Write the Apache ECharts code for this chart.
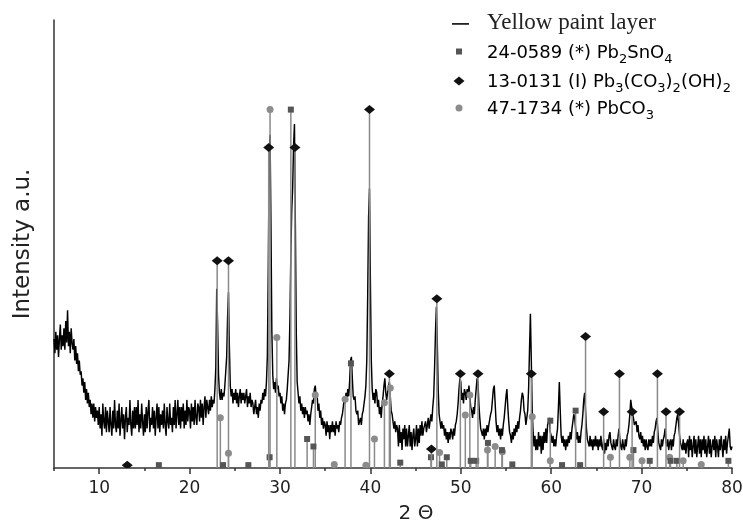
<!DOCTYPE html>
<html>
<head>
<meta charset="utf-8">
<script src="https://cdn.jsdelivr.net/npm/echarts@6/dist/echarts.min.js"></script>
<style>
  html, body { margin: 0; padding: 0; background: #fff; }
  #chart { width: 743px; height: 524px; }
</style>
</head>
<body>
<div id="chart"></div>
<script>
// XRD scan of the yellow paint layer: 5–80° 2θ, 0.1° step
const scanStart = 5;
const scanStep = 0.1;
const intensity = [
  36,32,38,33,37,31,36,40,33,37,
  34,39,33,41,35,44,34,38,32,39,
  35,33,36,30,34,29,32,27,30,26,
  27,23,25,21,24,19,22,18,21,17,
  19,15,18,14,18,13,17,14,16,12,
  17,11,15,9,18,13,11,17,10,16,
  13,10,17,12,9,16,11,19,12,10,
  16,11,18,9,13,17,11,15,8,14,
  17,10,14,12,19,12,9,16,11,17,
  11,17,12,19,10,15,11,18,13,9,
  15,10,17,11,16,19,10,14,12,17,
  11,16,9,14,18,11,17,10,15,12,
  16,11,18,12,9,17,13,11,18,12,
  14,10,17,12,19,11,15,19,12,17,
  11,17,13,18,11,16,12,19,13,17,
  16,11,18,13,17,12,19,14,12,18,
  17,13,19,14,18,12,17,20,14,19,
  17,15,19,16,20,17,19,18,22,28,
  50,40,26,21,19,22,19,21,20,23,
  27,31,42,49,34,23,20,22,18,21,
  19,22,18,21,17,20,22,18,21,19,
  21,18,20,22,17,20,18,21,17,19,
  18,15,17,19,15,17,14,18,16,19,
  18,21,19,22,20,24,31,55,85,93,
  68,38,26,22,24,21,25,22,23,20,
  21,18,20,16,18,15,18,19,22,26,
  30,42,60,72,78,90,96,68,38,24,
  21,18,20,16,18,15,17,14,17,15,
  16,13,15,12,15,17,19,18,22,23,
  20,21,16,18,14,16,12,14,11,13,
  12,9,13,10,12,8,12,10,13,10,
  12,9,13,11,12,10,13,12,14,15,
  17,19,18,21,19,22,20,24,30,31,
  25,20,19,20,16,15,16,12,12,14,
  12,15,16,18,20,23,30,48,70,78,
  52,30,22,19,21,18,22,21,17,19,
  15,17,14,18,20,23,25,21,19,21,
  23,24,20,16,15,13,11,13,10,12,
  11,6,12,7,10,5,11,8,12,6,
  11,6,9,12,6,10,5,9,11,6,
  8,12,6,11,7,12,9,13,9,11,
  11,13,10,12,14,11,13,15,13,17,
  20,28,38,45,35,22,15,13,11,13,
  11,12,9,11,8,10,7,10,8,11,
  10,8,11,9,12,13,15,18,22,25,
  24,19,21,18,22,21,19,22,20,23,
  20,17,16,14,17,15,19,22,25,24,
  18,14,11,10,9,11,8,11,9,12,
  10,12,12,15,16,19,22,23,18,13,
  10,12,9,11,8,11,9,12,14,17,
  20,22,17,13,10,9,7,10,8,11,
  9,12,10,13,11,14,16,19,21,20,
  16,15,12,14,16,22,33,43,30,16,
  10,6,9,5,8,5,10,6,9,4,
  9,5,10,7,11,7,12,12,14,10,
  9,7,9,6,8,6,9,11,17,24,
  16,9,7,9,6,8,5,8,6,9,
  7,10,8,11,13,15,14,11,8,10,
  7,9,7,10,12,15,19,21,16,11,
  8,7,6,9,6,8,5,8,6,9,
  6,8,5,8,6,9,6,5,8,4,
  7,5,8,6,9,10,7,6,5,8,
  6,5,8,6,9,11,8,6,5,8,
  6,5,8,6,9,10,12,15,19,17,
  15,14,12,12,13,10,12,9,8,10,
  7,9,6,8,5,8,6,5,8,6,
  8,6,9,7,10,11,13,14,10,7,
  6,5,8,6,8,9,11,7,6,8,
  5,7,8,5,8,6,9,10,12,14,
  15,12,9,7,6,5,8,5,7,4,
  7,8,3,9,5,8,3,6,9,4,
  8,3,6,9,4,8,3,8,5,9,
  4,8,3,6,9,4,8,3,6,8,
  5,9,3,8,6,3,8,5,9,6,
  3,8,5,9,4,7,9,11,6,5,
  6
];

// Reference patterns: [2θ, relative intensity]
const pb2sno4 = [ // 24-0589
  [16.6, 0.8], [23.7, 0.8], [26.5, 0.8], [28.85, 3], [31.2, 100], [33.0, 8.1],
  [33.7, 6], [37.85, 29.2], [43.3, 1.5], [46.7, 3], [47.9, 1], [48.45, 3],
  [51.1, 2], [51.7, 2], [53.0, 7], [54.55, 5], [55.7, 1], [59.9, 13.2],
  [61.2, 0.8], [62.7, 16], [63.2, 0.8], [69.1, 5], [70.9, 2], [73.2, 2],
  [73.9, 2], [79.6, 2]
];
const hydrocerussite = [ // 13-0131
  [13.1, 0.8], [23.05, 57.8], [24.3, 57.8], [28.75, 89.4], [31.65, 89.4],
  [39.9, 100], [42.1, 26.3], [46.75, 5.3], [47.35, 47.2], [49.95, 26.3],
  [51.9, 26.3], [57.8, 26.3], [63.8, 36.7], [65.8, 15.7], [67.55, 26.3],
  [68.95, 15.7], [71.75, 26.3], [72.7, 15.7], [74.2, 15.7]
];
const cerussite = [ // 47-1734
  [23.4, 14], [24.3, 4.1], [28.9, 100], [29.65, 36.4], [33.9, 20.4], [36.0, 1],
  [37.2, 19.2], [39.5, 0.8], [40.45, 8.1], [41.55, 18.2], [42.2, 22.3],
  [47.65, 4.3], [50.5, 14.8], [51.0, 20.4], [52.95, 5], [53.8, 6], [54.6, 4.5],
  [57.9, 14.3], [59.9, 2], [66.55, 3], [68.7, 3], [70.05, 2], [73.1, 3],
  [74.6, 2], [76.6, 1]
];

const majorTicks = [10, 20, 30, 40, 50, 60, 70, 80];
const minorTicks = [5, 15, 25, 35, 45, 55, 65, 75];

const sansFont = '"DejaVu Sans", sans-serif';
const textColor = '#222';
const stickColor = '#8a8a8a';

const scan = intensity.map((v, i) => [+(scanStart + i * scanStep).toFixed(1), v]);

// marker shapes centred on a point
const markerShapes = {
  rect: (cx, cy, color) => ({ type: 'rect', shape: { x: cx - 3, y: cy - 3, width: 6, height: 6 }, style: { fill: color } }),
  circle: (cx, cy, color) => ({ type: 'circle', shape: { cx: cx, cy: cy, r: 3.5 }, style: { fill: color } }),
  diamond: (cx, cy, color) => ({ type: 'polygon', shape: { points: [[cx - 5.5, cy], [cx, cy - 4.5], [cx + 5.5, cy], [cx, cy + 4.5]] }, style: { fill: color } })
};

// one card = vertical sticks from the baseline, capped with its marker
function cardSeries(data, marker, color, z) {
  return {
    type: 'custom',
    data: data,
    z: z,
    silent: true,
    clip: true,
    renderItem: function (params, api) {
      const top = api.coord([api.value(0), api.value(1)]);
      const base = api.coord([api.value(0), 0]);
      return {
        type: 'group',
        children: [
          { type: 'line', shape: { x1: top[0], y1: top[1], x2: base[0], y2: base[1] }, style: { stroke: stickColor, lineWidth: 1.5 } },
          markerShapes[marker](top[0], top[1], color)
        ]
      };
    }
  };
}

// chemical formulae with lowered subscripts
const legendRich = {
  n: { fontSize: 18, fontFamily: sansFont, color: textColor, lineHeight: 26, verticalAlign: 'bottom', padding: [0, 0, 4, 0] },
  s: { fontSize: 13, fontFamily: sansFont, color: textColor, lineHeight: 26, verticalAlign: 'bottom', padding: [0, 0, 0, 0] }
};

const chart = echarts.init(document.getElementById('chart'), null, { renderer: 'canvas' });

chart.setOption({
  animation: false,
  backgroundColor: '#fff',
  grid: { left: 54, right: 11, top: 20, bottom: 56, containLabel: false, outerBoundsMode: 'none' },
  xAxis: [
    {
      type: 'value', min: 5, max: 80,
      axisLine: { show: true, lineStyle: { color: '#333', width: 1.5 } },
      axisTick: { show: true, customValues: majorTicks, length: 6, lineStyle: { color: '#333', width: 1.5 } },
      axisLabel: { customValues: majorTicks, margin: 12, color: textColor, fontSize: 17, fontFamily: sansFont },
      splitLine: { show: false }
    },
    {
      type: 'value', min: 5, max: 80, position: 'bottom',
      axisLine: { show: false },
      axisTick: { show: true, customValues: minorTicks, length: 3, lineStyle: { color: '#333', width: 1.5 } },
      axisLabel: { show: false },
      splitLine: { show: false }
    }
  ],
  yAxis: {
    type: 'value', min: 0, max: 125,
    name: 'Intensity a.u.', nameLocation: 'middle', nameGap: 19,
    nameTextStyle: { color: textColor, fontSize: 23, fontFamily: sansFont },
    axisLine: { show: true, lineStyle: { color: '#333', width: 1.5 } },
    axisTick: { show: false },
    axisLabel: { show: false },
    splitLine: { show: false }
  },
  series: [
    {
      type: 'line', data: scan, showSymbol: false, symbol: 'none',
      sampling: 'none', z: 2, silent: true,
      lineStyle: { color: '#000', width: 1.45 }
    },
    cardSeries(cerussite, 'circle', '#8c8c8c', 3),
    cardSeries(pb2sno4, 'rect', '#555', 4),
    cardSeries(hydrocerussite, 'diamond', '#111', 5)
  ],
  graphic: [
    { type: 'text', x: 416, y: 514, style: { text: '2 Θ', align: 'center', verticalAlign: 'middle', fontSize: 20, fontFamily: sansFont, fill: textColor } },
    // legend
    { type: 'rect', shape: { x: 452, y: 23, width: 17, height: 1.8 }, style: { fill: '#222' } },
    { type: 'text', x: 487, y: 23, style: { text: 'Yellow paint layer', verticalAlign: 'middle', fontSize: 23, fontFamily: '"Liberation Serif", serif', fill: textColor } },
    { type: 'rect', shape: { x: 456, y: 48.5, width: 6, height: 6 }, style: { fill: '#555' } },
    { type: 'text', x: 487, y: 53, style: { text: '{n|24-0589 (*) Pb}{s|2}{n|SnO}{s|4}', rich: legendRich, verticalAlign: 'middle' } },
    { type: 'polygon', shape: { points: [[453.5, 81], [459, 76.5], [464.5, 81], [459, 85.5]] }, style: { fill: '#111' } },
    { type: 'text', x: 487, y: 82, style: { text: '{n|13-0131 (I) Pb}{s|3}{n|(CO}{s|3}{n|)}{s|2}{n|(OH)}{s|2}', rich: legendRich, verticalAlign: 'middle' } },
    { type: 'circle', shape: { cx: 459, cy: 108, r: 3.5 }, style: { fill: '#8c8c8c' } },
    { type: 'text', x: 487, y: 109, style: { text: '{n|47-1734 (*) PbCO}{s|3}', rich: legendRich, verticalAlign: 'middle' } }
  ]
});
</script>
</body>
</html>
